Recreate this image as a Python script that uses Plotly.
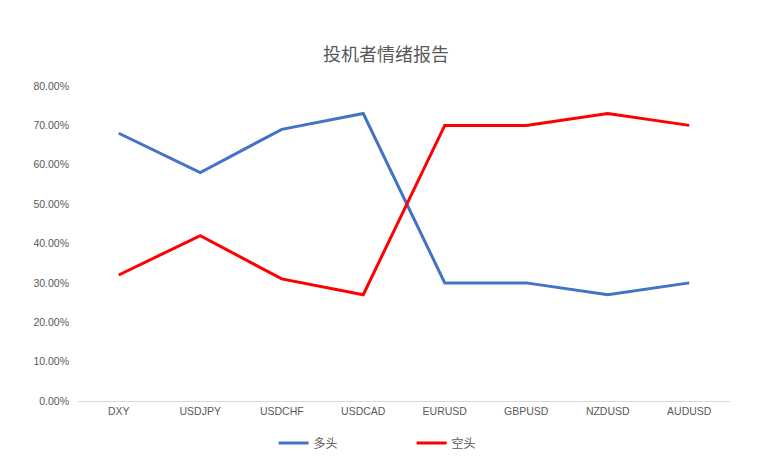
import plotly.graph_objects as go

categories = ["DXY", "USDJPY", "USDCHF", "USDCAD", "EURUSD", "GBPUSD", "NZDUSD", "AUDUSD"]
long_vals = [0.68, 0.58, 0.69, 0.73, 0.30, 0.30, 0.27, 0.30]
short_vals = [0.32, 0.42, 0.31, 0.27, 0.70, 0.70, 0.73, 0.70]
long_name = "多头"
short_name = "空头"
title_text = "投机者情绪报告"

font_family = "Liberation Sans, Noto Sans CJK SC, sans-serif"
gray = "#595959"

fig = go.Figure()
fig.add_trace(go.Scatter(x=categories, y=long_vals, name=long_name, mode="lines",
                         line=dict(color="#4472C4", width=3)))
fig.add_trace(go.Scatter(x=categories, y=short_vals, name=short_name, mode="lines",
                         line=dict(color="#FF0000", width=3)))

fig.update_layout(
    width=772, height=473,
    paper_bgcolor="white", plot_bgcolor="white",
    margin=dict(l=78, r=42, t=86, b=72, autoexpand=False),
    title=dict(text=title_text, x=0.5, xanchor="center", y=0.885, yanchor="middle",
               font=dict(family="Noto Sans CJK SC, sans-serif", size=18, color=gray)),
    font=dict(family=font_family, size=11, color=gray),
    showlegend=True,
    legend=dict(orientation="h", x=0.30, xanchor="left", y=-0.133, yanchor="middle",
                font=dict(family="Noto Sans CJK SC, sans-serif", size=12, color=gray),
                itemwidth=30, tracegroupgap=0, entrywidthmode="pixels", entrywidth=93),
)
fig.update_xaxes(showgrid=False, showline=True, linecolor="#D9D9D9", linewidth=1,
                 ticks="", tickfont=dict(size=10.5, color=gray), range=[-0.5, 7.5],
                 automargin=False, fixedrange=True)
fig.update_yaxes(range=[0, 0.8], dtick=0.1, tickformat=".2%", showgrid=False,
                 zeroline=False, showline=False, ticks="", ticklabelstandoff=8,
                 automargin=False, fixedrange=True, tickfont=dict(size=10.5, color=gray))

fig.write_html("out.html", config={"displayModeBar": False},
               post_script="document.body.style.margin='0';")
